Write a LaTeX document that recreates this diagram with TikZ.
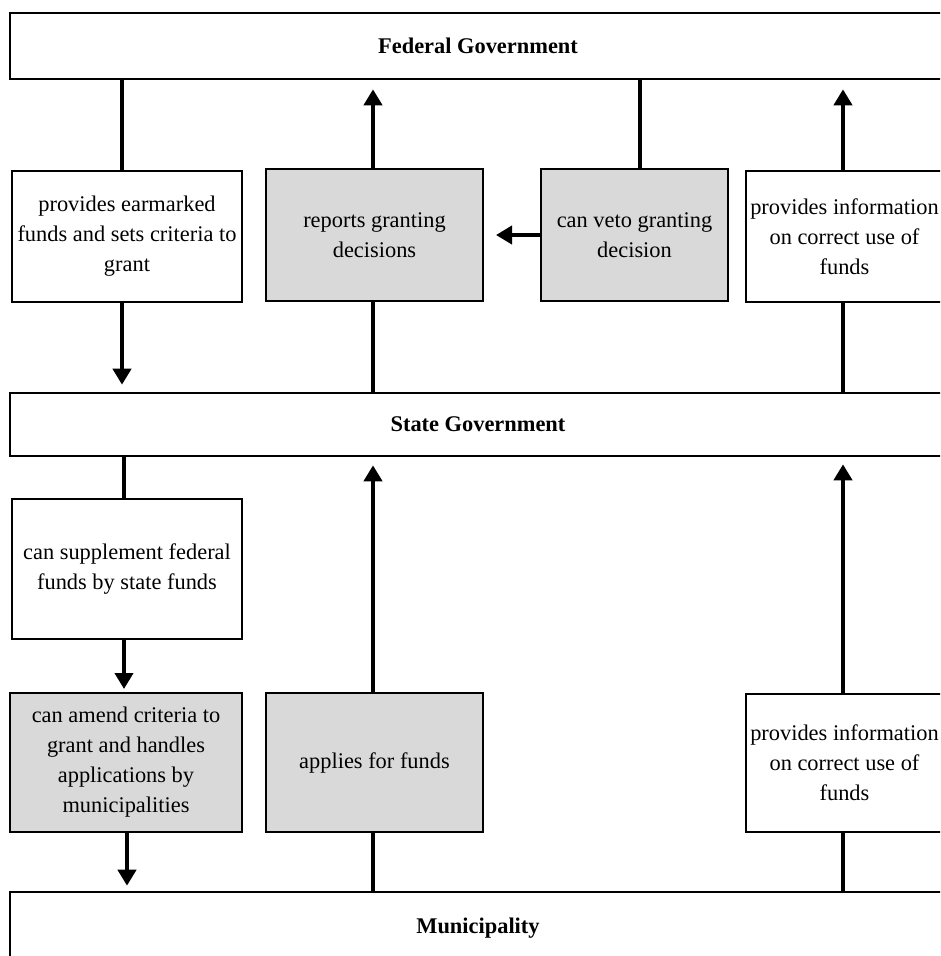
\documentclass[tikz,border=0pt]{standalone}
\usepackage{fontspec}
\setmainfont{Liberation Serif}
\usetikzlibrary{arrows.meta}
\definecolor{boxgrey}{HTML}{D9D9D9}

\begin{document}
\begin{tikzpicture}[
    x=1pt, y=-1pt,
    every node/.style={font=\fontsize{22.4}{30}\selectfont, align=center, inner sep=2pt},
    govbox/.style={draw, line width=2.6pt, minimum width=936pt, minimum height=66pt,
        font=\fontsize{22.4}{30}\selectfont\bfseries},
    plainbox/.style={draw, line width=1.3pt, fill=white},
    greybox/.style={draw, line width=2pt, fill=boxgrey},
    link/.style={line width=4pt},
    flow/.style={line width=4pt, -{Triangle[length=16pt,width=18pt]}}
    ]
	\clip (0,0) rectangle (940,956);
	% levels of government
	\node [govbox] (fed) at (478,46) {Federal Government};
	\node [govbox, minimum height=63pt] (state) at (478,424.5) {State Government};
	\node [govbox, minimum height=72pt] (muni) at (478,928) {Municipality};
	% upper row
	\node [plainbox, minimum width=230pt, minimum height=131pt] (earmark) at (127,236.5)
		{provides earmarked\\funds and sets criteria to\\grant};
	\node [greybox, minimum width=217pt, minimum height=132pt] (report) at (374.5,235)
		{reports granting\\decisions};
	\node [greybox, minimum width=187pt, minimum height=132pt] (veto) at (634.5,235)
		{can veto granting\\decision};
	\node [plainbox, minimum width=197pt, minimum height=131pt] (infofed) at (844.5,236.5)
		{provides information\\on correct use of\\funds};
	% lower rows
	\node [plainbox, minimum width=230pt, minimum height=140pt] (supplement) at (127,569)
		{can supplement federal\\funds by state funds};
	\node [greybox, minimum width=232pt, minimum height=139pt] (amend) at (126,762.5)
		{can amend criteria to\\grant and handles\\applications by\\municipalities};
	\node [greybox, minimum width=217pt, minimum height=139pt] (apply) at (374.5,762.5)
		{applies for funds};
	\node [plainbox, minimum width=197pt, minimum height=138pt] (infostate) at (844.5,763)
		{provides information\\on correct use of\\funds};
	% connector columns
	\coordinate (ca) at (122,0);
	\coordinate (cb) at (124,0);
	\coordinate (cc) at (127,0);
	\coordinate (cd) at (373,0);
	\coordinate (ce) at (640,0);
	\coordinate (cf) at (843,0);
	% federal -- state
	\draw [link] (fed.south -| ca) -- (earmark.north -| ca);
	\draw [flow, shorten >=7pt] (earmark.south -| ca) -- (state.north -| ca);
	\draw [flow, shorten >=9pt] (report.north -| cd) -- (fed.south -| cd);
	\draw [link] (state.north -| cd) -- (report.south -| cd);
	\draw [link] (fed.south -| ce) -- (veto.north -| ce);
	\draw [flow, shorten >=12pt] (veto.west) -- (report.east);
	\draw [flow, shorten >=9pt] (infofed.north -| cf) -- (fed.south -| cf);
	\draw [link] (state.north -| cf) -- (infofed.south -| cf);
	% state -- municipality
	\draw [link] (state.south -| cb) -- (supplement.north -| cb);
	\draw [flow, shorten >=3pt] (supplement.south -| cb) -- (amend.north -| cb);
	\draw [flow, shorten >=5pt] (amend.south -| cc) -- (muni.north -| cc);
	\draw [flow, shorten >=8pt] (apply.north -| cd) -- (state.south -| cd);
	\draw [link] (muni.north -| cd) -- (apply.south -| cd);
	\draw [flow, shorten >=7pt] (infostate.north -| cf) -- (state.south -| cf);
	\draw [link] (muni.north -| cf) -- (infostate.south -| cf);
\end{tikzpicture}
\end{document}
